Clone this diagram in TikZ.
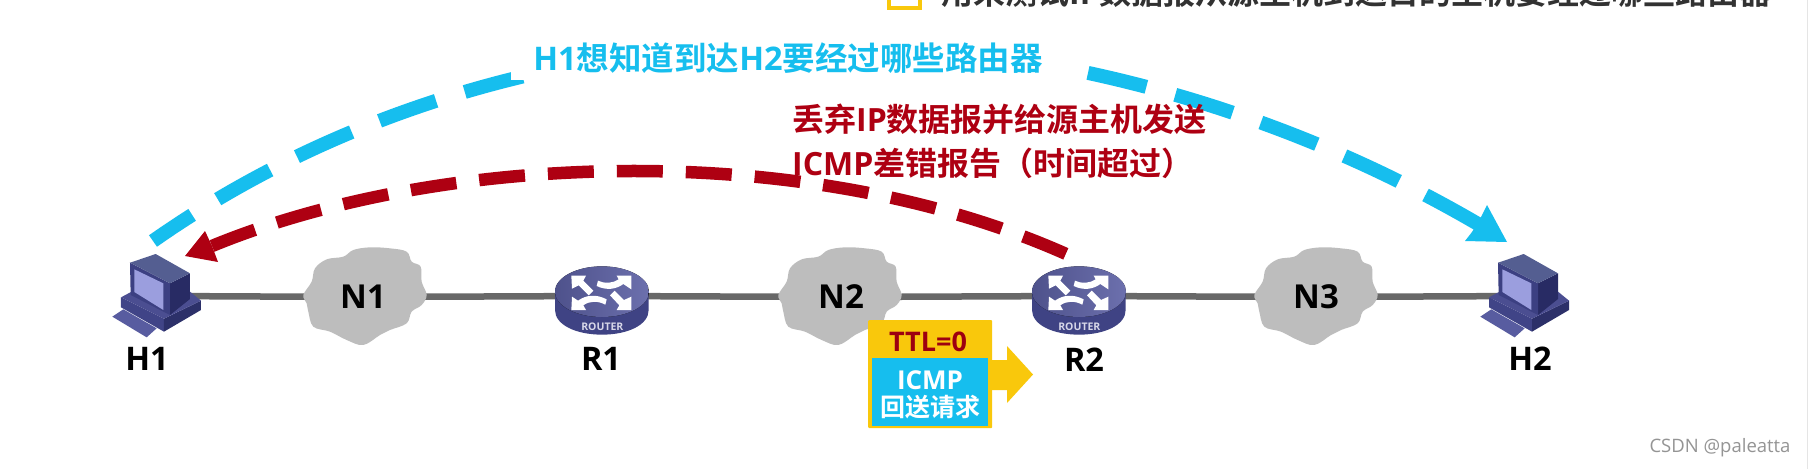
\documentclass[tikz,border=0pt]{standalone}
\usepackage{fontspec}
\setmainfont{Open Sans}
\newfontfamily\cjk{Noto Sans CJK SC}[BoldFont={Noto Sans CJK SC Bold}]
\usetikzlibrary{backgrounds}
\definecolor{cyanc}{HTML}{16BEEE}
\definecolor{redc}{HTML}{AE0012}
\definecolor{yel}{HTML}{F9C80C}
\definecolor{cloudc}{HTML}{BDBDBD}
\definecolor{linec}{HTML}{686868}
\definecolor{routertop}{HTML}{5C60A4}
\definecolor{routerside}{HTML}{3F4384}
\newcommand\zh[1]{{\cjk #1}}
\tikzset{
  netlabel/.style={inner sep=0pt,font=\fontsize{33}{38}\selectfont\bfseries,text=black},
  lbl/.style={font=\fontsize{32.5}{38}\selectfont\bfseries,text=black,inner sep=0pt},
  hook/.style={minimum size=2pt,inner sep=0pt,draw=none},
  cyandash/.style={draw=cyanc,line width=14pt,dash pattern=on 60pt off 30pt},
  reddash/.style={draw=redc,line width=12.5pt,dash pattern=on 46pt off 23pt},
  cloudpic/.pic={
    \begin{scope}[xshift=-75pt,yshift=56pt,x=0.3333pt,y=-0.3333pt]
      \fill[cloudc] plot[smooth cycle,tension=0.6] coordinates {(40,165)(65,125)(75,85)(110,58)(160,50)(190,30)(240,22)(300,25)(350,35)(365,65)(392,80)(395,125)(410,165)(395,195)(365,215)(350,250)(300,270)(270,285)(220,315)(170,300)(120,275)(70,260)(55,215)(50,190)};
    \end{scope}
  },
  pc/.pic={
    \begin{scope}[xshift=-70pt,yshift=76pt,x=0.3333pt,y=-0.3333pt]
      \fill[fill={rgb,255:red,88;green,92;blue,160}] (67,290)--(100,268)--(200,325)--(170,352)--cycle;
      \fill[fill={rgb,255:red,64;green,68;blue,135}] (93,232)--(93,262)--(222,335)--(222,296)--cycle;
      \fill[fill={rgb,255:red,44;green,48;blue,105}] (222,296)--(333,242)--(333,270)--(222,335)--cycle;
      \fill[fill={rgb,255:red,75;green,78;blue,145}] (93,232)--(125,215)--(300,215)--(333,242)--(222,296)--cycle;
      \fill[fill={rgb,255:red,40;green,43;blue,100}] (240,190)--(300,160)--(300,237)--(240,285)--cycle;
      \fill[fill={rgb,255:red,60;green,64;blue,130}] (120,128)--(240,190)--(240,285)--(122,225)--cycle;
      \fill[fill={rgb,255:red,155;green,158;blue,222}] (133,148)--(220,190)--(220,270)--(133,216)--cycle;
      \fill[fill={rgb,255:red,84;green,94;blue,145}] (120,128)--(150,118)--(197,102)--(300,160)--(240,190)--cycle;
    \end{scope}
  },
  routerpic/.pic={
    \begin{scope}[xshift=-54pt,yshift=36pt,x=0.3333pt,y=-0.3333pt]
      \fill[routerside] (21,95)--(21,150) .. controls (21,195) and (85,224) .. (162,224) .. controls (239,224) and (302,195) .. (302,150)--(302,95)--cycle;
      \fill[left color=routertop!85!black,right color=routertop!90!white] (162,95) ellipse[x radius=141,y radius=76];
      \fill[white] (70,47)--(114,47)--(106,62)--(136,92)--(122,106)--(92,76)--(72,86)--cycle;
      \fill[white] (250,47)--(206,47)--(212,58) .. controls (195,70) and (170,72) .. (150,62)--(146,78) .. controls (175,92) and (205,88) .. (226,72)--(250,88)--cycle;
      \fill[white] (70,150)--(114,150)--(106,136) .. controls (125,122) and (150,122) .. (172,134)--(176,118) .. controls (145,102) and (115,104) .. (90,122)--(72,110)--cycle;
      \fill[white] (250,150)--(206,150)--(214,136)--(186,106)--(200,92)--(228,120)--(250,110)--cycle;
      \node[text={rgb,255:red,215;green,215;blue,232},inner sep=0pt,font=\fontsize{10.5}{12}\selectfont\bfseries] at (163,200) {ROUTER};
    \end{scope}
  }
}
\begin{document}
\begin{tikzpicture}[x=1pt,y=-1pt]
\useasboundingbox (0,0) rectangle (1809,469);

% anchors of the network
\node[hook] (H1) at (160,296) {};
\node[hook] (H2) at (1528,296) {};
\node[hook] (R1) at (602,296) {};
\node[hook] (R2) at (1079,296) {};
\pic at (365,296) {cloudpic};
\pic at (840,296) {cloudpic};
\pic at (1316,296) {cloudpic};
\node[netlabel] (N1) at (363,297) {N1};
\node[netlabel] (N2) at (841,297) {N2};
\node[netlabel] (N3) at (1316,297) {N3};

\begin{pgfonlayer}{background}
  \fill[white] (0,0) rectangle (1809,469);
  \draw[gray!20,line width=1pt] (1807,0) -- (1807,469);
  \draw[linec,line width=6.5pt] (H1) -- (N1) -- (R1) -- (N2) -- (R2) -- (N3) -- (H2);
\end{pgfonlayer}

\pic at (H1) {pc};
\pic at (H2) {pc};
\pic at (R1) {routerpic};
\pic at (R2) {routerpic};

\node[lbl] (LH1) at (147,359) {H1};
\node[lbl] (LR1) at (601,359) {R1};
\node[lbl] (LR2) at (1084,360) {R2};
\node[lbl] (LH2) at (1530,359) {H2};

% arcs
\coordinate (cs) at (153,241);
\coordinate (ce) at (1478,224);
\coordinate (rs) at (1075,258);
\coordinate (re) at (212,246);
\draw[cyandash] (ce) .. controls (1060,-20) and (525,-20) .. (cs);
\fill[cyanc] (1507,242) -- (1487,205) -- (1481,217) -- (1472,232) -- (1465,241) -- cycle;
\draw[reddash] (re) .. controls (440,152) and (810,136) .. (rs);
\fill[redc] (185,256) -- (205,231) -- (212,246) -- (218,262) -- cycle;

\node[fill=white,inner xsep=22pt,inner ysep=7pt,text=cyanc,font=\fontsize{32.5}{38}\selectfont\bfseries] (tc) at (788,58) {H1\zh{想知道到达}H2\zh{要经过哪些路由器}};
\node[anchor=north west,inner sep=0pt,text=redc,align=left,font=\fontsize{32}{44}\selectfont\bfseries] (tr) at (792,104) {\zh{丢弃}IP\zh{数据报并给源主机发送}\\ICMP\zh{差错报告（时间超过）}};

% packet
\fill[yel] (992,360) -- (1007,360) -- (1007,346) -- (1033,374.5) -- (1007,403) -- (1007,390) -- (992,390) -- cycle;
\node[anchor=north west,fill=yel,rounded corners=1pt,minimum width=124pt,minimum height=108pt,inner sep=0pt] (pk) at (868,320) {};
\node[anchor=north west,fill=cyanc,minimum width=116pt,minimum height=68pt,inner sep=0pt] (pkb) at (872,358) {};
\node[inner sep=0pt,text=redc!90!black,font=\fontsize{27}{30}\selectfont\bfseries] (ttl) at (928,342) {TTL=0};
\node[inner sep=0pt,text=white,font=\fontsize{26}{28}\selectfont\bfseries] (ic) at (930,380) {ICMP};
\node[inner sep=0pt,text=white,font=\fontsize{25}{28}\selectfont\bfseries] (hs) at (930,407) {\zh{回送请求}};

% title, cut by the page edge
\draw[yel,line width=4pt,fill=white] (889,-20) rectangle (920,8);
\node[anchor=west,inner sep=0pt,text={rgb,255:red,50;green,50;blue,50},font=\fontsize{32}{38}\selectfont\bfseries] (title) at (941,-8) {\zh{用来测试}IP\zh{数据报从源主机到达目的主机要经过哪些路由器}};

\node[inner sep=0pt,text=black!42,font=\fontsize{18.5}{22}\selectfont] (wm) at (1720,448) {CSDN @paleatta};
\end{tikzpicture}
\end{document}
